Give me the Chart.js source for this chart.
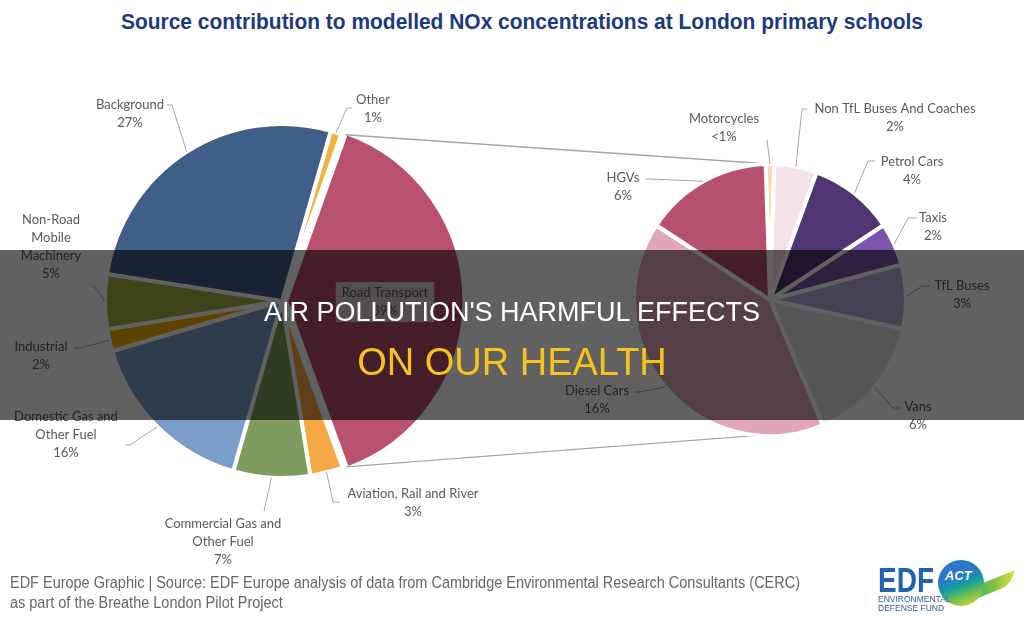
<!DOCTYPE html>
<html>
<head>
<meta charset="utf-8">
<script src="https://cdn.jsdelivr.net/npm/chart.js@4.4.0/dist/chart.umd.min.js"></script>
<style>
html, body { margin: 0; padding: 0; background: #fff; }
#wrap { position: relative; width: 1024px; height: 617px; overflow: hidden; background: #fff; font-family: "Liberation Sans", Arial, sans-serif; }
canvas { position: absolute; left: 0; top: 0; }
.fit { position: absolute; white-space: nowrap; transform-origin: 0 0; }
#title { left: 121px; top: 11px; font-size: 22px; line-height: 22px; font-weight: bold; color: #1d3a7e; }
#band { position: absolute; left: 0; top: 250px; width: 1024px; height: 170px; background: rgba(0, 0, 0, 0.62); }
.head { position: absolute; left: 0; width: 1024px; text-align: center; white-space: nowrap; }
#head1 { top: 299px; font-size: 27px; line-height: 27px; color: #fff; }
#head2 { top: 343px; font-size: 38px; line-height: 38px; color: #f6c31b; }
#foot1 { left: 10px; top: 575px; font-size: 16px; line-height: 16px; color: #666; }
#foot2 { left: 10px; top: 595px; font-size: 16px; line-height: 16px; color: #666; }
#edf { position: absolute; left: 878px; top: 562px; font-size: 35px; line-height: 35px; font-weight: bold; color: #1f63ad;
  transform: scaleX(0.8); transform-origin: 0 0; }
#tail { position: absolute; left: 962px; top: 581px; width: 52px; height: 13px; border-radius: 0 0 40px 0;
  background: linear-gradient(90deg, #14a39a, #7cc242 60%, #d8e03a); transform: skewY(-22deg); }
#swoosh { position: absolute; left: 938px; top: 560px; width: 46px; height: 46px; border-radius: 50%;
  background: linear-gradient(160deg, #2b78c9 0%, #2b78c9 38%, #14a39a 55%, #7cc242 75%, #e4e13a 100%); }
#swoosh span { position: absolute; left: 7px; top: 8px; font-size: 13px; font-weight: bold; font-style: italic; color: #fff; }
#edfname { position: absolute; left: 878px; top: 595px; font-size: 8.5px; line-height: 9px; color: #2d5d9a; }
</style>
</head>
<body>
<div id="wrap">
  <div id="title" class="fit">Source contribution to modelled NOx concentrations at London primary schools</div>
  <canvas id="leftPie" width="1024" height="617"></canvas>
  <canvas id="rightPie" width="1024" height="617"></canvas>
  <div id="foot1" class="fit">EDF Europe Graphic | Source: EDF Europe analysis of data from Cambridge Environmental Research Consultants (CERC)</div>
  <div id="foot2" class="fit">as part of the Breathe London Pilot Project</div>
  <div id="edf">EDF</div>
  <div id="tail"></div>
  <div id="swoosh"><span>ACT</span></div>
  <div id="edfname">ENVIRONMENTAL<br>DEFENSE FUND</div>
  <div id="band"></div>
  <div id="head1" class="head">AIR POLLUTION'S HARMFUL EFFECTS</div>
  <div id="head2" class="head">ON OUR HEALTH</div>
</div>
<script>
// Main pie: sources of NOx (%)
const leftCategories = ['Other', 'Road Transport', 'Aviation, Rail and River', 'Commercial Gas and Other Fuel',
    'Domestic Gas and Other Fuel', 'Industrial', 'Non-Road Mobile Machinery', 'Background'];
const leftValues = [1, 39, 3, 7, 16, 2, 5, 27];
const leftColors = ['#f0b23c', '#b8506f', '#f4a944', '#7f9c5e', '#7b9dc9', '#f0b400', '#a3b044', '#3f5f88'];

// Secondary pie: breakdown of road transport (%)
const rightCategories = ['Motorcycles', 'Non TfL Buses And Coaches', 'Petrol Cars', 'Taxis',
    'TfL Buses', 'Vans', 'Diesel Cars', 'HGVs'];
const rightValues = [0.4, 2, 4, 2, 3, 6, 16, 6];
const rightColors = ['#f7d9b8', '#f3e2e7', '#4f3572', '#7b55ad', '#b9aedb', '#e2e0e8', '#e0a6ba', '#b5506f'];

// label placement (page pixels): centre of first text line, wrap width, leader start points
const leftLabelPos = [
    { x: 373, y: 100, wrap: 200, lead: [[352, 108], [347, 108]] },
    { x: 385, y: 293, wrap: 200, box: true },
    { x: 413, y: 494, wrap: 200, lead: [[340, 502], [333, 502]] },
    { x: 223, y: 524, wrap: 130, lead: [[264, 511]] },
    { x: 66, y: 417, wrap: 115, lead: [[125, 445], [130, 445]] },
    { x: 41, y: 347, wrap: 100, lead: [[74, 348], [80, 348]] },
    { x: 51, y: 220, wrap: 75, lead: [[93, 285]] },
    { x: 130, y: 105, wrap: 200, lead: [[167, 105], [172, 105]] }
];
const rightLabelPos = [
    { x: 724, y: 119, wrap: 200, lead: [[767, 140]] },
    { x: 895, y: 109, wrap: 300, lead: [[807, 109], [802, 109]] },
    { x: 912, y: 162, wrap: 200, lead: [[875, 161], [868, 161]] },
    { x: 933, y: 218, wrap: 200, lead: [[917, 218], [908, 218]] },
    { x: 962, y: 286, wrap: 200, lead: [[930, 286], [922, 286]] },
    { x: 918, y: 407, wrap: 200, lead: [[900, 408], [893, 408]] },
    { x: 597, y: 391, wrap: 200, lead: [[635, 392], [640, 392]] },
    { x: 623, y: 178, wrap: 200, lead: [[645, 179], [650, 179]] }
];

const LABEL_FONT = '13px Lato';
const LABEL_COLOR = '#595959';
const LEADER_COLOR = '#a6a6a6';

function pctText(v) {
    return v < 1 ? '<1%' : v + '%';
}

// point on the outside of an arc, including the shift Chart.js applies for "offset"
function edgePoint(arc, angle, extra) {
    const off = (arc.options.offset || 0) / 4;
    const mid = (arc.startAngle + arc.endAngle) / 2;
    const fix = 1 - Math.sin(Math.min(Math.PI, arc.circumference || 0));
    const r = arc.outerRadius + off * fix + (extra || 0);
    return [arc.x + Math.cos(mid) * off + Math.cos(angle) * r,
            arc.y + Math.sin(mid) * off + Math.sin(angle) * r];
}

function wrapText(ctx, text, maxW) {
    const words = text.split(' ');
    const lines = [];
    let cur = '';
    words.forEach(w => {
        const t = cur ? cur + ' ' + w : w;
        if (cur && ctx.measureText(t).width > maxW) {
            lines.push(cur);
            cur = w;
        } else {
            cur = t;
        }
    });
    lines.push(cur);
    return lines;
}

function makeLabelPlugin(layout) {
    return {
        id: 'pieLabels',
        afterDatasetsDraw(chart) {
            const ctx = chart.ctx;
            const arcs = chart.getDatasetMeta(0).data;
            const values = chart.data.datasets[0].data;
            ctx.save();
            ctx.font = LABEL_FONT;
            ctx.textAlign = 'center';
            ctx.textBaseline = 'middle';
            chart.data.labels.forEach((name, i) => {
                const pos = layout[i];
                const arc = arcs[i];
                const lines = wrapText(ctx, name, pos.wrap);
                lines.push(pctText(values[i]));

                if (pos.lead) {
                    const mid = (arc.startAngle + arc.endAngle) / 2;
                    const end = edgePoint(arc, mid, 0);
                    ctx.strokeStyle = LEADER_COLOR;
                    ctx.lineWidth = 1;
                    ctx.beginPath();
                    ctx.moveTo(pos.lead[0][0], pos.lead[0][1]);
                    pos.lead.slice(1).forEach(p => ctx.lineTo(p[0], p[1]));
                    ctx.lineTo(end[0], end[1]);
                    ctx.stroke();
                }
                if (pos.box) {
                    const w = Math.max(...lines.map(l => ctx.measureText(l).width)) + 12;
                    ctx.fillStyle = '#dccbd0';
                    ctx.fillRect(pos.x - w / 2, pos.y - 11, w, lines.length * 18 + 4);
                }
                ctx.fillStyle = LABEL_COLOR;
                lines.forEach((l, k) => ctx.fillText(l, pos.x, pos.y + k * 18));
            });
            ctx.restore();
        }
    };
}

// lines joining the road transport slice to the secondary pie
const connectorPlugin = {
    id: 'connectors',
    beforeDatasetsDraw(chart) {
        if (!window.leftChart) return;
        const rt = window.leftChart.getDatasetMeta(0).data[1];
        const arcs = chart.getDatasetMeta(0).data;
        const a0 = arcs[0];
        const top = [a0.x, a0.y - a0.outerRadius];
        const bottom = [a0.x + Math.cos(Math.PI / 2 + 0.09) * a0.outerRadius,
                        a0.y + Math.sin(Math.PI / 2 + 0.09) * a0.outerRadius];
        const p1 = edgePoint(rt, rt.startAngle, -2);
        const p2 = edgePoint(rt, rt.endAngle, -2);
        const ctx = chart.ctx;
        ctx.save();
        ctx.strokeStyle = LEADER_COLOR;
        ctx.lineWidth = 1.3;
        ctx.beginPath();
        ctx.moveTo(p1[0], p1[1]);
        ctx.lineTo(top[0], top[1]);
        ctx.moveTo(p2[0], p2[1]);
        ctx.lineTo(bottom[0], bottom[1]);
        ctx.stroke();
        ctx.restore();
    }
};

function pieOptions(padding, rotation, radius) {
    return {
        responsive: false,
        animation: false,
        devicePixelRatio: 1,
        events: [],
        rotation: rotation,
        radius: radius,
        layout: { padding: padding },
        plugins: {
            legend: { display: false },
            tooltip: { enabled: false }
        }
    };
}

function fitWidth(id, width) {
    const el = document.getElementById(id);
    const w = el.getBoundingClientRect().width;
    el.style.transform = 'scaleX(' + (width / w) + ')';
    return width / w;
}

Promise.all([document.fonts.load(LABEL_FONT), document.fonts.ready]).then(() => {
    fitWidth('title', 802);
    const s = fitWidth('foot1', 790);
    document.getElementById('foot2').style.transform = 'scaleX(' + s + ')';

    window.leftChart = new Chart(document.getElementById('leftPie'), {
        type: 'pie',
        data: {
            labels: leftCategories,
            datasets: [{
                data: leftValues,
                backgroundColor: leftColors,
                borderColor: '#ffffff',
                borderWidth: 4,
                offset: leftValues.map((v, i) => i === 1 ? 16 : 0)
            }]
        },
        options: pieOptions({ left: 82, right: 542, top: 101, bottom: 116 }, 16, 177),
        plugins: [makeLabelPlugin(leftLabelPos)]
    });

    const motoShare = rightValues[0] / rightValues.reduce((a, b) => a + b, 0) * 360;
    window.rightChart = new Chart(document.getElementById('rightPie'), {
        type: 'pie',
        data: {
            labels: rightCategories,
            datasets: [{
                data: rightValues,
                backgroundColor: rightColors,
                borderColor: '#ffffff',
                borderWidth: 4
            }]
        },
        options: pieOptions({ left: 620, right: 104, top: 150, bottom: 167 }, -motoShare / 2, 136),
        plugins: [connectorPlugin, makeLabelPlugin(rightLabelPos)]
    });
});
</script>
</body>
</html>
